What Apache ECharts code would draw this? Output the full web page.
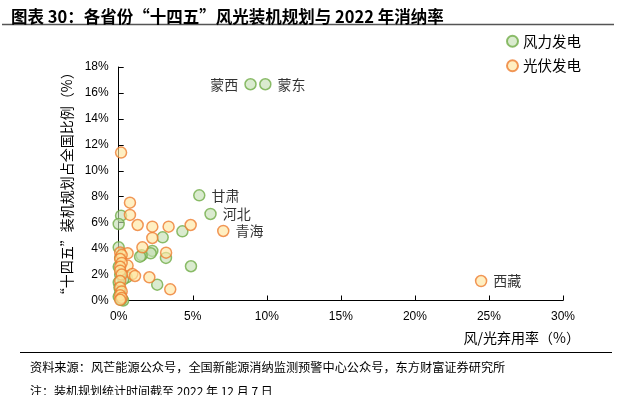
<!DOCTYPE html>
<html><head><meta charset="utf-8">
<script src="https://cdn.jsdelivr.net/npm/echarts@6/dist/echarts.min.js"></script>
<style>html,body{margin:0;padding:0;background:#fff}#c{width:618px;height:395px}</style>
</head><body><div id="c"></div>
<script>
const seriesNames = ['风力发电', '光伏发电'];
const xTicks = [0, 5, 10, 15, 20, 25, 30];
const yTicks = [0, 2, 4, 6, 8, 10, 12, 14, 16, 18];
// wind: [curtailment %, share of national plan %]
const windX = [8.9, 9.9, 5.44, 6.2, 0.16, 0.0, 4.3, 2.97, 0.0, 2.27, 2.16, 1.55, 1.44, 3.19, 4.88, 0.54, 0.31, 2.6, 0.1, 0.0, 0.05, 0.1, 0.0, 0.2, 0.3, 0.0, 0.1, 0.15];
const windY = [16.67, 16.67, 8.11, 6.67, 6.54, 5.9, 5.33, 4.87, 4.1, 3.82, 3.64, 3.48, 3.38, 3.28, 2.64, 1.79, 1.63, 1.22, 2.0, 1.4, 1.0, 0.6, 0.3, 0.1, 0.0, 2.6, 3.3, 0.05];
const windNames = ['蒙西', '蒙东', '甘肃', '河北', '', '', '', '', '', '', '', '', '', '', '', '', '', '', '', '', '', '', '', '', '', '', '', ''];
// solar
const solarX = [0.16, 0.76, 0.76, 1.28, 2.27, 3.37, 4.86, 2.27, 1.6, 0.6, 3.2, 0.6, 0.92, 1.1, 2.07, 3.48, 7.06, 24.47, 0.1, 0.2, 0.1, 0.2, 0.1, 0.1, 0.2, 0.1, 0.1, 0.2, 0.1, 0.2, 0.1];
const solarY = [11.4, 7.54, 6.6, 5.82, 5.69, 5.69, 5.82, 4.82, 4.1, 3.64, 3.69, 2.69, 2.04, 1.89, 1.79, 0.86, 5.36, 1.5, 3.7, 3.5, 3.2, 2.9, 2.6, 2.3, 2.0, 1.5, 1.0, 0.7, 0.4, 0.2, 0.05];
const solarNames = ['', '', '', '', '', '', '', '', '', '', '', '', '', '', '', '', '青海', '西藏', '', '', '', '', '', '', '', '', '', '', '', '', ''];

const CJK = '"Noto Sans CJK SC", sans-serif';
const LAT = '"Liberation Sans", Arial, sans-serif';

function build(xs, ys, names) {
  return xs.map((x, i) => {
    const item = { value: [x, ys[i]] };
    if (names[i]) {
      item.label = {
        show: true, formatter: names[i],
        position: names[i] === '蒙西' ? 'left' : 'right',
        distance: 6,
        fontFamily: CJK, fontSize: 14, color: '#000'
      };
    }
    return item;
  });
}

const chart = echarts.init(document.getElementById('c'));
chart.setOption({
  animation: false,
  title: {
    text: '图表 30：各省份“十四五”风光装机规划与 2022 年消纳率',
    left: 6, top: 3,
    textStyle: { fontFamily: CJK, fontSize: 16.5, fontWeight: 'bold', color: '#000' }
  },
  legend: {
    orient: 'vertical', left: 501, top: 29, itemGap: 10,
    itemWidth: 11, itemHeight: 11,
    textStyle: { fontFamily: CJK, fontSize: 14.5, color: '#000' },
    data: seriesNames
  },
  grid: { left: 118.7, right: 55, top: 67, bottom: 94.5, containLabel: false },
  xAxis: {
    type: 'value', min: xTicks[0], max: xTicks[xTicks.length - 1], interval: 5,
    splitLine: { show: false },
    axisLine: { lineStyle: { color: '#000', width: 1 } },
    axisTick: { inside: true, length: 5, lineStyle: { color: '#000' } },
    axisLabel: { formatter: v => v + '%', fontFamily: LAT, fontSize: 12, color: '#000', margin: 10 }
  },
  yAxis: {
    type: 'value', min: yTicks[0], max: yTicks[yTicks.length - 1], interval: 2,
    name: '“十四五”装机规划占全国比例（%）',
    nameLocation: 'middle', nameRotate: 90, nameGap: 41,
    nameTextStyle: { fontFamily: CJK, fontSize: 14, color: '#000' },
    splitLine: { show: false },
    axisLine: { show: true, lineStyle: { color: '#000', width: 1 } },
    axisTick: { show: true, inside: true, length: 5, lineStyle: { color: '#000' } },
    axisLabel: { formatter: v => v + '%', fontFamily: LAT, fontSize: 12, color: '#000', margin: 10 }
  },
  series: [
    {
      name: seriesNames[0], type: 'scatter', symbolSize: 11,
      itemStyle: { color: 'rgba(197,224,180,0.8)', borderColor: '#70AD47', borderWidth: 1.5 },
      data: build(windX, windY, windNames)
    },
    {
      name: seriesNames[1], type: 'scatter', symbolSize: 11,
      itemStyle: { color: 'rgba(255,230,160,0.8)', borderColor: '#ED7D31', borderWidth: 1.5 },
      data: build(solarX, solarY, solarNames)
    }
  ],
  graphic: [
    { type: 'line', shape: { x1: 2, y1: 24.5, x2: 614, y2: 24.5 }, style: { stroke: '#555', lineWidth: 1.5 } },
    { type: 'text', right: 38, top: 331, style: { text: '风/光弃用率（%）', font: '14px ' + CJK, fill: '#000' } },
    { type: 'line', shape: { x1: 20, y1: 352.5, x2: 612, y2: 352.5 }, style: { stroke: '#000', lineWidth: 1 } },
    { type: 'text', left: 30, top: 361, style: { text: '资料来源：风芒能源公众号，全国新能源消纳监测预警中心公众号，东方财富证券研究所', font: '12.2px ' + CJK, fill: '#000' } },
    { type: 'text', left: 30, top: 385, style: { text: '注：装机规划统计时间截至 2022 年 12 月 7 日', font: '12px ' + CJK, fill: '#000' } }
  ]
});
</script></body></html>
